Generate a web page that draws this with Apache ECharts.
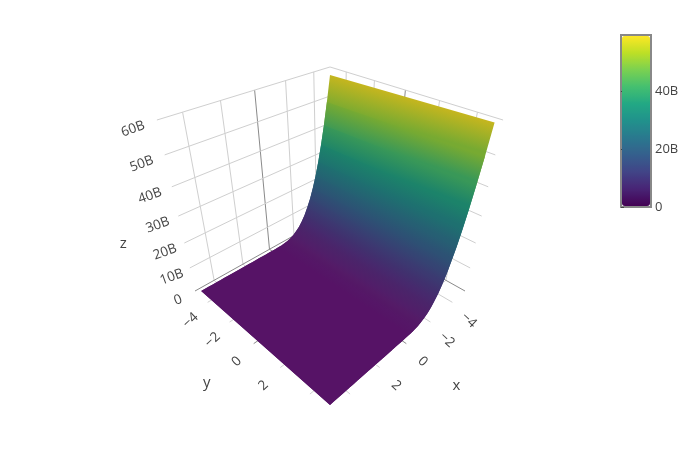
<!DOCTYPE html>
<html>
<head>
<meta charset="utf-8">
<title>surface</title>
<script src="https://cdn.jsdelivr.net/npm/echarts@6/dist/echarts.min.js"></script>
<style>
  html, body { margin: 0; background: #fff; }
  #chart { width: 700px; height: 450px; }
</style>
</head>
<body>
<div id="chart"></div>
<script>
// surface samples, in billions
var xValues = [-5, -4.75, -4.5, -4.25, -4, -3.75, -3.5, -3.25, -3, -2.75, -2.5, -2.25, -2, -1.75, -1.5, -1.25, -1, -0.75, -0.5, -0.25,
  0, 0.25, 0.5, 0.75, 1, 1.25, 1.5, 1.75, 2, 2.25, 2.5, 2.75, 3, 3.25, 3.5, 3.75, 4, 4.25, 4.5, 4.75, 5];
var yValues = [-5, 5];
var zAtYMax = [59.3, 50.1, 41.9, 34.7, 28.4, 22.9, 18.3, 14.3, 11, 8.2, 6, 4.25, 2.9, 1.9, 1.15, 0.62, 0.3, 0.12, 0.03, 0.005,
  0, 0, 0, 0, 0, 0, 0, 0, 0, 0, 0, 0, 0, 0, 0, 0, 0, 0, 0, 0, 0];
var zAtYMin = [58, 49, 41, 34, 27.8, 22.4, 17.9, 14, 10.8, 8, 5.9, 4.15, 2.85, 1.85, 1.12, 0.6, 0.3, 0.12, 0.03, 0.005,
  0, 0, 0, 0, 0, 0, 0, 0, 0, 0, 0, 0, 0, 0, 0, 0, 0, 0, 0, 0, 0];

// ticks
var xTicks = [-4, -2, 0, 2, 4];
var yTicks = [-4, -2, 0, 2, 4];
var zTicks = [0, 10, 20, 30, 40, 50, 60];
var xTickLabels = ['−4', '−2', '0', '2'];
var yTickLabels = ['−4', '−2', '0', '2'];
var zTickLabels = ['0', '10B', '20B', '30B', '40B', '50B', '60B'];
var colorbarTicks = [0, 20, 40];

var viridis = ['#440154', '#482475', '#414487', '#355f8d', '#2a788e', '#21918c', '#22a884', '#44bf70', '#7ad151', '#bddf26', '#fde725'];

var R = 5.24;      // half width of the scene box
var ZTOP = 60;     // top of the scene box
var ZMAX = 59.4;   // top of the colour scale
var TEXT = '#444';
var FONT = '"Open Sans", sans-serif';

// perspective fitted to the scene box corners
function project(x, y, z) {
  var a = (y - x) / (2 * R);
  var b = (x + y) / (2 * R);
  var h = z / ZTOP;
  var w = 1 - 0.2309 * b - 0.22 * h;
  return [330 + 135 * a / w, (291 + 25.9 * b - 197.4 * h) / w];
}

// darkens the steep part, lifts the flat part a bit
function shade(hex, slope) {
  var rgb = echarts.color.parse(hex);
  var s = slope / Math.sqrt(1 + slope * slope);
  var k = 1 - 0.22 * s;
  var add = 0.07 * (1 - s) + 0.035 * Math.sin(Math.PI * s);
  return 'rgb(' + [0, 1, 2].map(function (i) {
    return Math.min(255, Math.round(rgb[i] * k + add * 255));
  }).join(',') + ')';
}

function slopeAt(i) {
  var i0 = Math.max(0, i - 1);
  var i1 = Math.min(xValues.length - 1, i + 1);
  var dz = Math.abs(zAtYMax[i1] - zAtYMax[i0]) / ZTOP;
  var dx = (xValues[i1] - xValues[i0]) / (2 * R);
  return dz / dx * 0.8;
}

function colorAt(i) {
  var hex = echarts.color.lerp(Math.min(1, zAtYMax[i] / ZMAX), viridis);
  return shade(hex, slopeAt(i));
}

// wall and floor lines
var gridLines = [];
xTicks.forEach(function (t) {
  gridLines.push([t, -R, 0, t, -R, ZTOP, t === 0 ? 1 : 0]);
  gridLines.push([t, -R, 0, t, R, 0, t === 0 ? 1 : 0]);
});
yTicks.forEach(function (t) {
  gridLines.push([-R, t, 0, -R, t, ZTOP, t === 0 ? 1 : 0]);
  gridLines.push([-R, t, 0, R, t, 0, t === 0 ? 1 : 0]);
});
zTicks.forEach(function (t) {
  gridLines.push([R, -R, t, -R, -R, t, t === 0 ? 1 : 0]);
  gridLines.push([-R, -R, t, -R, R, t, t === 0 ? 1 : 0]);
});

// surface strips, one per step along x
var strips = [];
for (var i = 0; i < xValues.length - 1; i++) {
  strips.push([i, zAtYMax[i]]);
}

// text placed next to the tick ends
var labels = [];
xTickLabels.forEach(function (s, i) {
  var p = project(xTicks[i], R, 0);
  labels.push({ text: s, x: p[0] + 16.5, y: p[1] + 18, rot: -0.75, size: 13.5 });
});
yTickLabels.forEach(function (s, i) {
  var p = project(R, yTicks[i], 0);
  labels.push({ text: s, x: p[0] - 17, y: p[1] + 18, rot: 0.75, size: 13.5 });
});
zTickLabels.forEach(function (s, i) {
  var p = project(R, -R, zTicks[i]);
  labels.push({ text: s, x: p[0] - 17 - 7 * zTicks[i] / ZTOP, y: p[1] + 9, rot: 0.35, size: 13.5 });
});
var px = project(0, R, 0), py = project(R, 0, 0), pz = project(R, -R, 30);
labels.push({ text: 'x', x: px[0] + 50, y: px[1] + 42, rot: 0, size: 15 });
labels.push({ text: 'y', x: py[0] - 47, y: py[1] + 39, rot: 0, size: 15 });
labels.push({ text: 'z', x: pz[0] - 55, y: pz[1] + 28, rot: 0, size: 15 });

var option = {
  animation: false,
  backgroundColor: '#fff',
  grid: [
    { left: 0, top: 0, width: 700, height: 450 },
    { left: 621, top: 35, width: 30, height: 172, show: true, borderColor: '#888', borderWidth: 2, backgroundColor: 'transparent' }
  ],
  xAxis: [
    { type: 'value', gridIndex: 0, min: 0, max: 700, show: false },
    { type: 'value', gridIndex: 1, min: 0, max: 1, show: false }
  ],
  yAxis: [
    { type: 'value', gridIndex: 0, min: 0, max: 450, inverse: true, show: false },
    {
      type: 'value', gridIndex: 1, position: 'right', min: 0, max: ZMAX,
      axisLine: { show: false },
      splitLine: { show: false },
      axisTick: { show: true, length: 3, lineStyle: { color: '#444' }, customValues: colorbarTicks },
      axisLabel: {
        color: TEXT, fontFamily: FONT, fontSize: 13, margin: 4,
        padding: [3, 0, 0, 0],
        customValues: colorbarTicks,
        formatter: function (v) { return v === 0 ? '0' : v + 'B'; }
      }
    }
  ],
  visualMap: {
    type: 'continuous', show: true, seriesIndex: 1, dimension: 1,
    min: 0, max: ZMAX, left: 622, top: 36, itemWidth: 28, itemHeight: 170, padding: 0,
    calculable: false, text: null, showLabel: false,
    inRange: { color: viridis }
  },
  series: [
    {
      type: 'custom', xAxisIndex: 0, yAxisIndex: 0, silent: true, z: 1,
      data: gridLines,
      renderItem: function (params, api) {
        var p0 = project(api.value(0), api.value(1), api.value(2));
        var p1 = project(api.value(3), api.value(4), api.value(5));
        var a = api.coord(p0), b = api.coord(p1);
        return {
          type: 'line',
          shape: { x1: a[0], y1: a[1], x2: b[0], y2: b[1] },
          style: { stroke: api.value(6) ? '#8a8a8a' : '#cfcfcf', lineWidth: 1 }
        };
      }
    },
    {
      type: 'custom', xAxisIndex: 0, yAxisIndex: 0, silent: true, z: 2,
      data: strips,
      renderItem: function (params, api) {
        var i = api.value(0);
        // each strip runs on under the next one, which is painted over it, so no seams show
        var end = Math.min(i + 2, xValues.length - 1);
        var corners = [
          [xValues[i], yValues[0], zAtYMin[i]],
          [xValues[i], yValues[1], zAtYMax[i]],
          [xValues[i + 1], yValues[1], zAtYMax[i + 1]]
        ];
        if (end > i + 1) {
          corners.push([xValues[end], yValues[1], zAtYMax[end]]);
          corners.push([xValues[end], yValues[0], zAtYMin[end]]);
        }
        corners.push([xValues[i + 1], yValues[0], zAtYMin[i + 1]]);
        var pts = corners.map(function (d) {
          return api.coord(project(d[0], d[1], d[2]));
        });
        var c0 = api.coord(project(xValues[i], yValues[0], zAtYMin[i]));
        var c1 = api.coord(project(xValues[i], yValues[1], zAtYMax[i]));
        var c2 = api.coord(project(xValues[i + 1], yValues[1], zAtYMax[i + 1]));
        var c3 = api.coord(project(xValues[i + 1], yValues[0], zAtYMin[i + 1]));
        // gradient runs square to the strip's edge so neighbouring strips meet
        var m0 = [(c0[0] + c1[0]) / 2, (c0[1] + c1[1]) / 2];
        var m1 = [(c2[0] + c3[0]) / 2, (c2[1] + c3[1]) / 2];
        var ex = c1[0] - c0[0], ey = c1[1] - c0[1];
        var len = Math.sqrt(ex * ex + ey * ey);
        var nx = -ey / len, ny = ex / len;
        var d = (m1[0] - m0[0]) * nx + (m1[1] - m0[1]) * ny;
        var fill = new echarts.graphic.LinearGradient(m0[0], m0[1], m0[0] + nx * d, m0[1] + ny * d, [
          { offset: 0, color: colorAt(i) },
          { offset: 1, color: colorAt(i + 1) }
        ], true);
        return {
          type: 'polygon',
          shape: { points: pts },
          style: { fill: fill }
        };
      }
    },
    {
      type: 'custom', xAxisIndex: 0, yAxisIndex: 0, silent: true, z: 3,
      data: labels.map(function (l, i) { return [i]; }),
      renderItem: function (params, api) {
        var l = labels[params.dataIndex];
        var c = api.coord([l.x, l.y]);
        return {
          type: 'text', x: c[0], y: c[1], rotation: l.rot,
          style: { text: l.text, fill: TEXT, fontFamily: FONT, fontSize: l.size, align: 'center', verticalAlign: 'middle' }
        };
      }
    }
  ]
};

var chart = echarts.init(document.getElementById('chart'), null, { renderer: 'canvas' });
chart.setOption(option);
</script>
</body>
</html>
